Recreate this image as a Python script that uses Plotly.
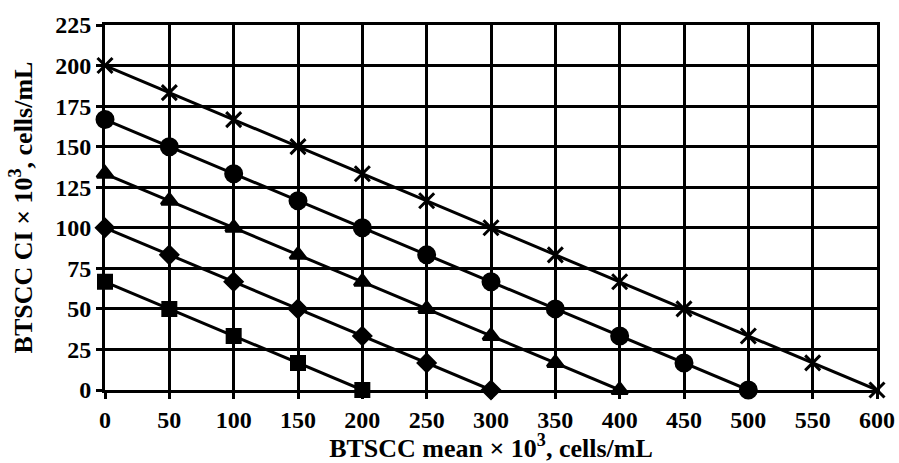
import plotly.graph_objects as go

# BTSCC mean (x 10^3 cells/mL) at each marker
mean_x = [0, 50, 100, 150, 200, 250, 300, 350, 400, 450, 500, 550, 600]

# CI values (x 10^3 cells/mL) for each line
ci_200 = [200, 183.3, 166.7, 150, 133.3, 116.7, 100, 83.3, 66.7, 50, 33.3, 16.7, 0]
ci_167 = [166.7, 150, 133.3, 116.7, 100, 83.3, 66.7, 50, 33.3, 16.7, 0]
ci_133 = [133.3, 116.7, 100, 83.3, 66.7, 50, 33.3, 16.7, 0]
ci_100 = [100, 83.3, 66.7, 50, 33.3, 16.7, 0]
ci_67 = [66.7, 50, 33.3, 16.7, 0]

y_ticks = [0, 25, 50, 75, 100, 125, 150, 175, 200, 225]
x_ticks = [0, 50, 100, 150, 200, 250, 300, 350, 400, 450, 500, 550, 600]

series = [
    (ci_200, "x-thin", 15),
    (ci_167, "circle", 16),
    (ci_133, "triangle-up", 14),
    (ci_100, "diamond", 13),
    (ci_67, "square", 13),
]

fig = go.Figure()
for ys, sym, size in series:
    fig.add_trace(go.Scatter(
        x=mean_x[:len(ys)], y=ys, mode="lines+markers",
        line=dict(color="black", width=3),
        marker=dict(symbol=sym, size=size, color="black",
                    line=dict(color="black", width=3)),
        cliponaxis=False, showlegend=False,
    ))

font_fam = "Liberation Serif, Times New Roman, serif"
axis_common = dict(
    tickfont=dict(size=24), showgrid=True, gridcolor="black", gridwidth=3,
    showline=True, linecolor="black", linewidth=3, mirror=True,
    ticks="outside", ticklen=6, tickwidth=3, tickcolor="black",
    zeroline=False, automargin=False,
)
fig.update_layout(
    width=899, height=463,
    margin=dict(l=105, r=22, t=25, b=73),
    paper_bgcolor="white", plot_bgcolor="white",
    font=dict(family=font_fam, color="black"),
    xaxis=dict(
        range=[0, 600], tickvals=x_ticks, ticktext=[f"<b>{v}</b>" for v in x_ticks],
        title=dict(text="<b>BTSCC mean × 10<sup>3</sup>, cells/mL</b>",
                   font=dict(size=26), standoff=6),
        **axis_common,
    ),
    yaxis=dict(
        range=[0, 225], tickvals=y_ticks, ticktext=[f"<b>{v}</b>" for v in y_ticks],
        title=dict(text="<b>BTSCC CI × 10<sup>3</sup>, cells/mL</b>",
                   font=dict(size=26), standoff=16),
        **axis_common,
    ),
)

fig.write_html("out.html")
